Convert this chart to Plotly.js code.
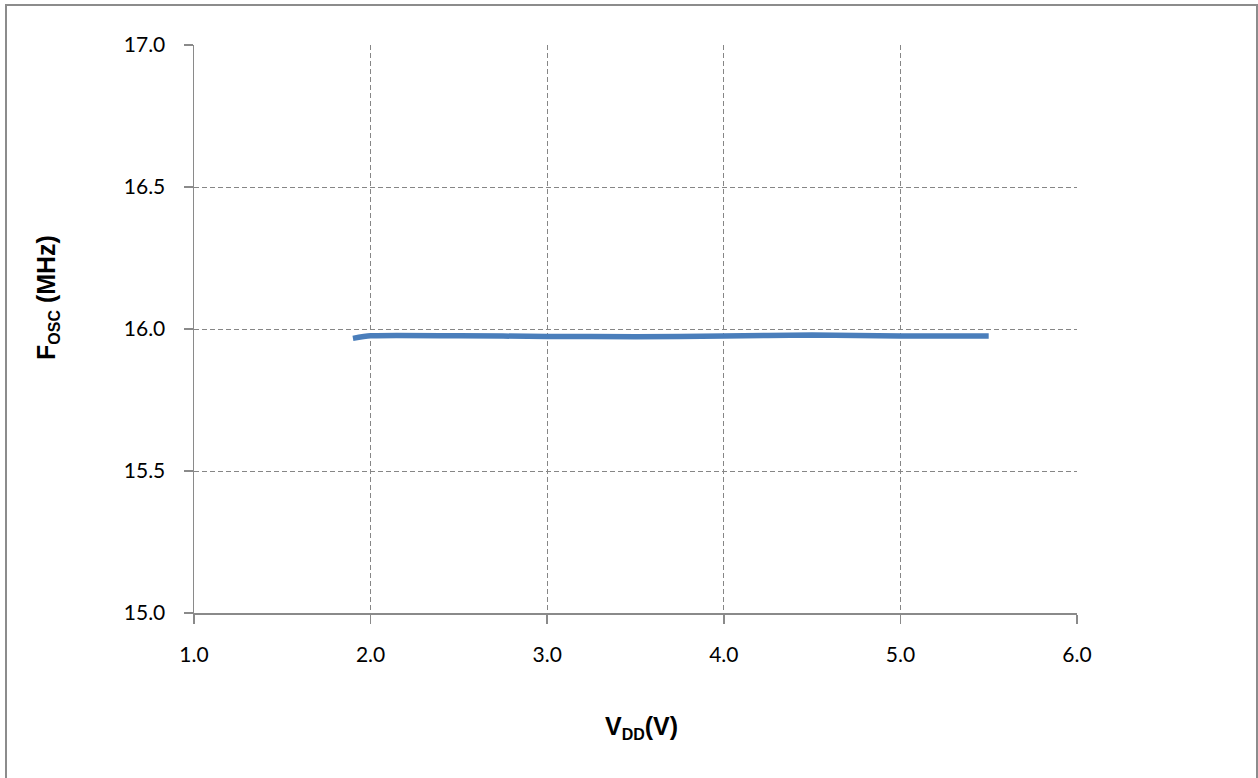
<!DOCTYPE html>
<html><head><meta charset="utf-8">
<script src="https://cdn.plot.ly/plotly-3.0.1.min.js"></script>
<style>
html,body{margin:0;padding:0;background:#fff;}
#wrap{position:relative;width:1258px;height:778px;overflow:hidden;}
#chart{position:absolute;left:0;top:0;width:1258px;height:778px;}
#frame{position:absolute;left:5px;top:4px;width:1253px;height:790px;border:2px solid #8c8c8c;box-sizing:border-box;pointer-events:none;}
</style></head>
<body><div id="wrap"><div id="chart"></div><div id="frame"></div></div>
<script>
var vdd = [1.9, 2.0, 2.5, 3.0, 3.5, 4.0, 4.5, 5.0, 5.5];
var fosc = [15.967, 15.976, 15.976, 15.974, 15.973, 15.975, 15.979, 15.975, 15.975];
var xTicks = [1.0, 2.0, 3.0, 4.0, 5.0, 6.0];
var yTicks = [15.0, 15.5, 16.0, 16.5, 17.0];
var xTitle = '<b>V<sub><span style="font-size:16px">DD</span></sub>(V)</b>';
var yTitle = '<b>F<sub><span style="font-size:16px">OSC</span></sub> (MHz)</b>';

var tickFont = {family: 'Lato, "Open Sans", sans-serif', size: 21, color: '#000'};
var titleFont = {family: '"Liberation Sans", Arial, sans-serif', size: 25, color: '#000'};

var L = 194, R = 1077, T = 45, B = 613;
function px(x){ return (x - L) / (R - L); }
function py(y){ return (B - y) / (B - T); }

Plotly.newPlot('chart', [{
  x: vdd, y: fosc, type: 'scatter', mode: 'lines',
  line: {color: '#4a7ebb', width: 5.5, shape: 'spline', smoothing: 0.6},
  hoverinfo: 'skip'
}], {
  width: 1258, height: 778,
  margin: {l: L, r: 1258 - R, t: T, b: 778 - B},
  paper_bgcolor: '#fff', plot_bgcolor: '#fff',
  showlegend: false,
  xaxis: {
    range: [1.0, 6.0], tickvals: xTicks, ticktext: xTicks.map(function(v){return v.toFixed(1);}),
    showgrid: true, gridcolor: '#868686', griddash: '5px,3px', gridwidth: 1,
    showline: true, linecolor: '#8a8a8a', linewidth: 1.5,
    ticks: 'outside', ticklen: 9, tickcolor: '#8a8a8a', tickwidth: 1.5,
    ticklabelstandoff: 13,
    tickfont: tickFont, zeroline: false
  },
  yaxis: {
    range: [15.0, 17.0], tickvals: yTicks, ticktext: yTicks.map(function(v){return v.toFixed(1);}),
    showgrid: true, gridcolor: '#868686', griddash: '5px,3px', gridwidth: 1,
    showline: true, linecolor: '#8a8a8a', linewidth: 1.5,
    ticks: 'outside', ticklen: 9, tickcolor: '#8a8a8a', tickwidth: 1.5,
    ticklabelstandoff: 14,
    tickfont: tickFont, zeroline: false
  },
  annotations: [
    {text: xTitle, xref: 'paper', yref: 'paper', x: px(641), y: py(727), xanchor: 'center', yanchor: 'middle', showarrow: false, font: titleFont},
    {text: yTitle, xref: 'paper', yref: 'paper', x: px(47), y: py(298), xanchor: 'center', yanchor: 'middle', showarrow: false, textangle: -90, font: titleFont}
  ]
}, {displayModeBar: false, staticPlot: true});
</script></body></html>
